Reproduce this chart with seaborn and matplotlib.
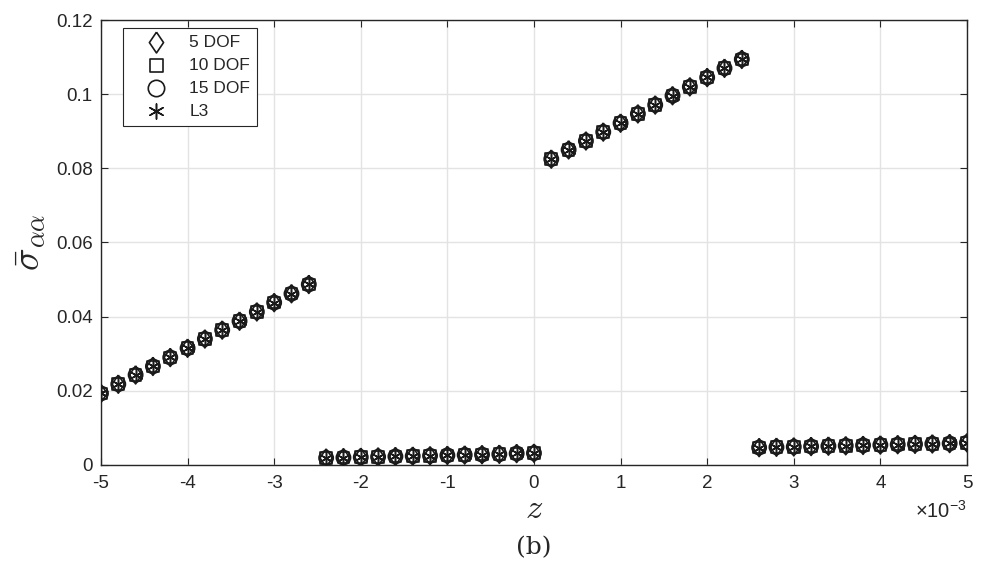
import numpy as np
import pandas as pd
import matplotlib
matplotlib.use("Agg")
import matplotlib.pyplot as plt
from matplotlib.ticker import FuncFormatter
import seaborn as sns

# z positions (in metres) for the four layers, step 0.2e-3
z_layer1 = [-5.0e-3, -4.8e-3, -4.6e-3, -4.4e-3, -4.2e-3, -4.0e-3, -3.8e-3,
            -3.6e-3, -3.4e-3, -3.2e-3, -3.0e-3, -2.8e-3, -2.6e-3]
z_layer2 = [-2.4e-3, -2.2e-3, -2.0e-3, -1.8e-3, -1.6e-3, -1.4e-3, -1.2e-3,
            -1.0e-3, -0.8e-3, -0.6e-3, -0.4e-3, -0.2e-3, 0.0]
z_layer3 = [0.2e-3, 0.4e-3, 0.6e-3, 0.8e-3, 1.0e-3, 1.2e-3, 1.4e-3,
            1.6e-3, 1.8e-3, 2.0e-3, 2.2e-3, 2.4e-3]
z_layer4 = [2.6e-3, 2.8e-3, 3.0e-3, 3.2e-3, 3.4e-3, 3.6e-3, 3.8e-3,
            4.0e-3, 4.2e-3, 4.4e-3, 4.6e-3, 4.8e-3, 5.0e-3]

# stress values (all models nearly coincide)
s_layer1 = [0.0193, 0.0218, 0.0243, 0.0266, 0.0290, 0.0315, 0.0340,
            0.0364, 0.0388, 0.0413, 0.0438, 0.0462, 0.0487]
s_layer2 = [0.0019, 0.0020, 0.0021, 0.0022, 0.0023, 0.0024, 0.0025,
            0.0026, 0.0027, 0.0028, 0.0029, 0.0031, 0.0032]
s_layer3 = [0.0825, 0.0850, 0.0874, 0.0898, 0.0922, 0.0947, 0.0971,
            0.0996, 0.1020, 0.1045, 0.1070, 0.1094]
s_layer4 = [0.0047, 0.0048, 0.0049, 0.0050, 0.0051, 0.0052, 0.0053,
            0.0054, 0.0055, 0.0056, 0.0057, 0.0058, 0.0060]

models = ["5 DOF", "10 DOF", "15 DOF", "L3"]

z_all = z_layer1 + z_layer2 + z_layer3 + z_layer4
s_all = s_layer1 + s_layer2 + s_layer3 + s_layer4

sns.set_theme(style="whitegrid")
plt.rcParams["font.family"] = ["Liberation Sans", "DejaVu Sans"]
plt.rcParams["mathtext.fontset"] = "cm"
plt.rcParams["axes.unicode_minus"] = False

fig = plt.figure(figsize=(9.86, 5.8), dpi=100)
ax = fig.add_axes([0.1024, 0.1983, 0.8783, 0.7672])

diamond = [(0, 1), (0.68, 0), (0, -1), (-0.68, 0), (0, 1)]
marker_styles = {
    "5 DOF": (diamond, 170),
    "10 DOF": ("s", 70),
    "15 DOF": ("o", 105),
    "L3": ((6, 2, 0), 90),
}

df = pd.DataFrame({"z": z_all, "sigma": s_all})
for m in models:
    mk, size = marker_styles[m]
    if m == "L3":
        # line-art marker: colour comes from the face colour
        sns.scatterplot(data=df, x="z", y="sigma", marker=mk, s=size,
                        color="#1a1a1a", linewidth=1.1, label=m, ax=ax,
                        zorder=3)
    else:
        sns.scatterplot(data=df, x="z", y="sigma", marker=mk, s=size,
                        color="k", facecolor="none", edgecolor="#1a1a1a",
                        linewidth=1.2, label=m, ax=ax, zorder=3)

ax.set_xlim(-5e-3, 5e-3)
ax.set_ylim(0, 0.12)
ax.set_xticks(np.arange(-5, 6, 1) * 1e-3)
ax.set_yticks(np.arange(0, 0.121, 0.02))
ax.xaxis.set_major_formatter(FuncFormatter(lambda v, p: f"{v * 1e3:g}"))
ax.yaxis.set_major_formatter(FuncFormatter(lambda v, p: f"{v:.2f}".rstrip("0").rstrip(".") if v != 0 else "0"))

ax.grid(True, color="#e3e3e3", linewidth=1.0)
for sp in ax.spines.values():
    sp.set_color("#262626")
    sp.set_linewidth(1.0)
ax.tick_params(direction="in", length=5, width=0.8, color="#262626",
               labelsize=13.5, labelcolor="#262626",
               top=True, right=True, bottom=True, left=True)
ax.tick_params(axis="x", pad=7)
ax.tick_params(axis="y", pad=6)

ax.set_xlabel(r"$z$", fontsize=25, labelpad=0)
ax.set_ylabel(r"$\bar{\sigma}_{\alpha\alpha}$", fontsize=27, labelpad=6)

ax.text(1.0, -0.078, r"$\mathregular{\times10^{-3}}$", transform=ax.transAxes,
        ha="right", va="top", fontsize=14.5, color="#262626")
fig.text(0.5416, 0.055, "(b)", ha="center", va="center", fontsize=18,
         family="DejaVu Serif")

leg = ax.legend(loc="upper left", bbox_to_anchor=(0.025, 0.982),
                fancybox=False, framealpha=1, edgecolor="#262626",
                fontsize=12.5, handletextpad=0.35, borderpad=0.4,
                labelspacing=0.45, borderaxespad=0, handlelength=3.1,
                markerscale=1.15)
leg.get_frame().set_linewidth(0.8)

fig.savefig("out.png", dpi=100)
